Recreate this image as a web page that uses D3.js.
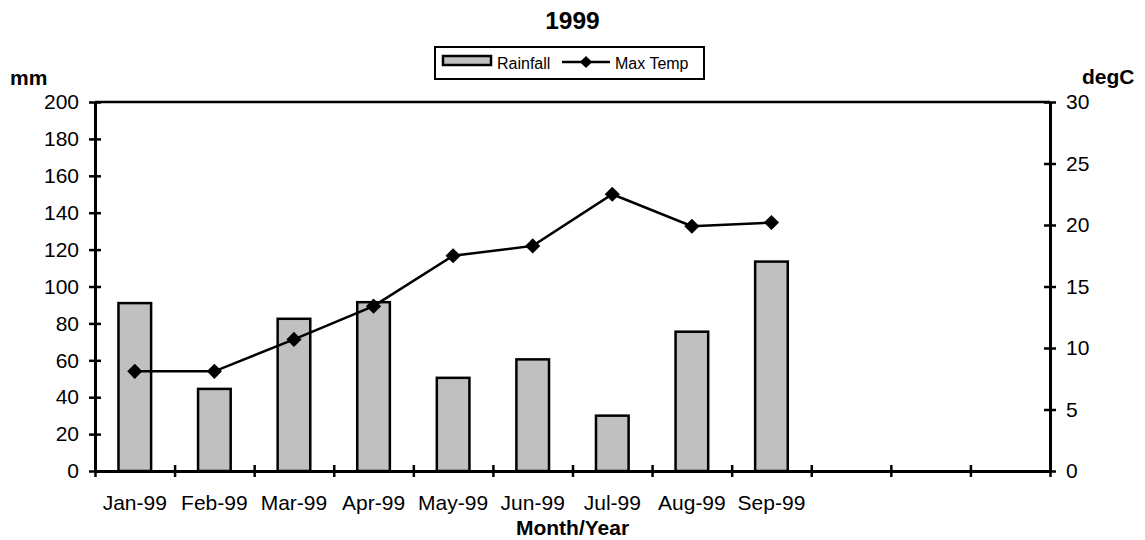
<!DOCTYPE html>
<html>
<head>
<meta charset="utf-8">
<script src="https://cdn.jsdelivr.net/npm/d3@7"></script>
<style>
  body { margin: 0; background: #fff; }
  svg text { font-family: "Liberation Sans", Arial, sans-serif; fill: #000; }
</style>
</head>
<body>
<div id="chart"></div>
<script>
// chart data
const months = ["Jan-99", "Feb-99", "Mar-99", "Apr-99", "May-99", "Jun-99", "Jul-99", "Aug-99", "Sep-99", "Oct-99", "Nov-99", "Dec-99"];
const monthLabels = ["Jan-99", "Feb-99", "Mar-99", "Apr-99", "May-99", "Jun-99", "Jul-99", "Aug-99", "Sep-99", "", "", ""];
const rainfall = [91, 44.5, 82.5, 91.5, 50.5, 60.5, 30, 75.5, 113.5];
const maxTemp = [8.1, 8.1, 10.7, 13.4, 17.5, 18.3, 22.5, 19.9, 20.2];
const rainTicks = [0, 20, 40, 60, 80, 100, 120, 140, 160, 180, 200];
const tempTicks = [0, 5, 10, 15, 20, 25, 30];

const W = 1145, H = 540;
const plotL = 95, plotR = 1050, plotT = 102, plotB = 471;

const svg = d3.select('#chart').append('svg')
    .attr('width', W)
    .attr('height', H);

const x = d3.scaleBand().domain(months).range([plotL, plotR]).padding(0);
const xEdge = d3.scaleLinear().domain([0, months.length]).range([plotL, plotR]);
const yRain = d3.scaleLinear().domain([0, 200]).range([plotB, plotT]);
const yTemp = d3.scaleLinear().domain([0, 30]).range([plotB, plotT]);

const barW = x.bandwidth() * 0.41;

// bars
svg.append('g').selectAll('rect')
    .data(rainfall)
    .enter()
    .append('rect')
    .attr('x', (d, i) => x(months[i]) + x.bandwidth() / 2 - barW / 2)
    .attr('y', d => yRain(d))
    .attr('width', barW)
    .attr('height', d => yRain(0) - yRain(d))
    .attr('fill', '#c0c0c0')
    .attr('stroke', '#000')
    .attr('stroke-width', 2.5);

// plot area top line
svg.append('line')
    .attr('x1', plotL).attr('x2', plotR)
    .attr('y1', plotT).attr('y2', plotT)
    .attr('stroke', '#000').attr('stroke-width', 2.5);

function styleAxis(g) {
    g.select('.domain').attr('stroke', '#000').attr('stroke-width', 3);
    g.selectAll('.tick line').attr('stroke', '#000').attr('stroke-width', 2.5);
    g.selectAll('.tick text').attr('font-size', 21).attr('fill', '#000');
}

// left axis
const gl = svg.append('g')
    .attr('transform', `translate(${plotL},0)`)
    .call(d3.axisLeft(yRain).tickValues(rainTicks).tickSize(6).tickSizeOuter(0).tickPadding(10));
styleAxis(gl);
gl.selectAll('.tick line').attr('x2', 6).attr('x1', -6);

// right axis
const gr = svg.append('g')
    .attr('transform', `translate(${plotR},0)`)
    .call(d3.axisRight(yTemp).tickValues(tempTicks).tickSize(6).tickSizeOuter(0).tickPadding(10));
styleAxis(gr);
gr.selectAll('.tick line').attr('x1', -6).attr('x2', 6);

// x axis: boundary ticks
const gx = svg.append('g')
    .attr('transform', `translate(0,${plotB})`)
    .call(d3.axisBottom(xEdge).tickValues(d3.range(months.length + 1)).tickSize(6).tickSizeOuter(0).tickFormat(''));
styleAxis(gx);
gx.selectAll('.tick line').attr('y1', -6).attr('y2', 6);

// x axis: category labels
const gxl = svg.append('g')
    .attr('transform', `translate(0,${plotB})`)
    .call(d3.axisBottom(x).tickSize(0).tickPadding(24).tickFormat((d, i) => monthLabels[i]));
gxl.select('.domain').remove();
gxl.selectAll('.tick text').attr('font-size', 21).attr('fill', '#000');

// temperature line
const line = d3.line()
    .x((d, i) => x(months[i]) + x.bandwidth() / 2)
    .y(d => yTemp(d));

svg.append('path')
    .datum(maxTemp)
    .attr('d', line)
    .attr('fill', 'none')
    .attr('stroke', '#000')
    .attr('stroke-width', 2.5);

const diamond = d3.symbol().type(d3.symbolSquare).size(115);
svg.append('g').selectAll('path')
    .data(maxTemp)
    .enter()
    .append('path')
    .attr('d', diamond)
    .attr('transform', (d, i) => `translate(${x(months[i]) + x.bandwidth() / 2},${yTemp(d)}) rotate(45)`)
    .attr('fill', '#000');

// titles
svg.append('text')
    .attr('x', (plotL + plotR) / 2).attr('y', 29)
    .attr('text-anchor', 'middle')
    .attr('font-size', 24.5).attr('font-weight', 'bold')
    .text('1999');

svg.append('text')
    .attr('x', 10).attr('y', 85)
    .attr('font-size', 21).attr('font-weight', 'bold')
    .text('mm');

svg.append('text')
    .attr('x', 1082).attr('y', 84)
    .attr('font-size', 21).attr('font-weight', 'bold')
    .text('degC');

svg.append('text')
    .attr('x', (plotL + plotR) / 2).attr('y', 535)
    .attr('text-anchor', 'middle')
    .attr('font-size', 21).attr('font-weight', 'bold')
    .text('Month/Year');

// legend
const lg = svg.append('g');
lg.append('rect')
    .attr('x', 435).attr('y', 47).attr('width', 269).attr('height', 32)
    .attr('fill', '#fff').attr('stroke', '#000').attr('stroke-width', 2);
lg.append('rect')
    .attr('x', 443).attr('y', 56).attr('width', 48).attr('height', 9)
    .attr('fill', '#c0c0c0').attr('stroke', '#000').attr('stroke-width', 2.5);
lg.append('text')
    .attr('x', 497).attr('y', 69)
    .attr('font-size', 16)
    .text('Rainfall');
lg.append('line')
    .attr('x1', 562).attr('x2', 610).attr('y1', 62).attr('y2', 62)
    .attr('stroke', '#000').attr('stroke-width', 2.5);
lg.append('path')
    .attr('d', d3.symbol().type(d3.symbolSquare).size(75))
    .attr('transform', 'translate(586,62) rotate(45)')
    .attr('fill', '#000');
lg.append('text')
    .attr('x', 615).attr('y', 69)
    .attr('font-size', 16)
    .text('Max Temp');
</script>
</body>
</html>
